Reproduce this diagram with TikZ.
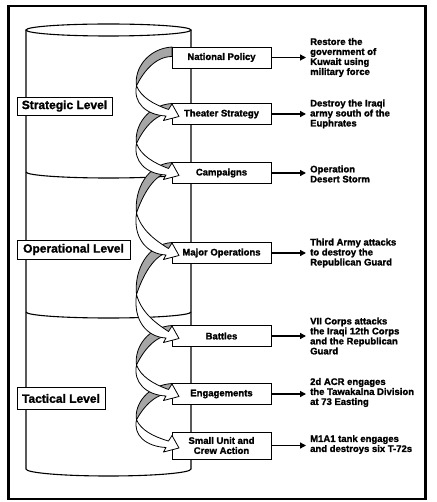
\documentclass[tikz,border=0pt]{standalone}
\usepackage{fontspec}
\setmainfont{Liberation Sans}
\newfontfamily\hb{Liberation Sans}[BoldFeatures={FakeBold=1.5}]
\usetikzlibrary{arrows.meta}

\tikzset{
  twistline/.style={draw=black,line width=0.8pt,line join=round},
  stepbox/.style={draw,fill=white,line width=0.8pt,minimum width=99pt,minimum height=21pt,
    inner sep=1pt,align=center,font=\hb\bfseries\fontsize{9.5}{10}\selectfont},
  lvlbox/.style={draw,fill=white,line width=0.8pt,inner sep=1pt,align=center,
    font=\hb\bfseries\fontsize{12}{13}\selectfont},
  outcome/.style={anchor=west,inner sep=0pt,align=left,
    font=\hb\bfseries\fontsize{9.5}{10}\selectfont},
  outarrow/.style={line width=1.3pt,-{Triangle[length=6pt,width=6pt]},shorten >=4pt},
  cyl/.style={line width=1.1pt}
}

\newcommand\gtwist[2]{%
  \pgfmathsetmacro\twym{(#1+#2)/2}\pgfmathsetmacro\twhh{(#2-#1)/2}%
  \draw[twistline,fill=black!35] (172,#1-10.5) .. controls (148,#1-9) and (134,\twym-0.6*\twhh) .. (136.5,\twym)
    .. controls (142,\twym-0.4*\twhh) and (154,#1-1) .. (172,#1-1) -- cycle;}
\newcommand\wtwist[2]{%
  \pgfmathsetmacro\twym{(#1+#2)/2}\pgfmathsetmacro\twhh{(#2-#1)/2}%
  \draw[twistline,fill=white] (136.5,\twym) .. controls (141,\twym+0.4*\twhh) and (153,#2-0.35*\twhh) .. (168.5,#2-4.5)
    -- (172,#2-10) -- (179,#2+2.5) -- (163.5,#2+6.5) -- (166,#2+2)
    .. controls (146,#2+1) and (133,\twym+0.6*\twhh) .. (136.5,\twym) -- cycle;}

\begin{document}
\begin{tikzpicture}[x=1pt,y=-1pt]
\useasboundingbox (0,0) rectangle (436,502);
\fill[white] (0,0) rectangle (436,502);
\draw[line width=2.5pt] (8.5,6) rectangle (425.5,499);

% cylinder
\draw[cyl,fill=white] (26,30) -- (26,469) arc[start angle=180,end angle=0,x radius=82.5,y radius=7] -- (191,30);
\draw[cyl,fill=white] (108.5,30) ellipse[x radius=82.5,y radius=6];
\draw[cyl] (26,172) arc[start angle=180,end angle=0,x radius=82.5,y radius=6];
\draw[cyl] (26,312) arc[start angle=180,end angle=0,x radius=82.5,y radius=6];

% level labels
\node[lvlbox,minimum width=95pt,minimum height=18pt] (strat) at (64.5,106) {Strategic Level};
\node[lvlbox,minimum width=113pt,minimum height=19pt] (oper) at (73.5,249.5) {Operational Level};
\node[lvlbox,minimum width=88pt,minimum height=22pt] (tact) at (61,398.5) {Tactical Level};

% gray back faces
\gtwist{57.5}{114}
\gtwist{114}{173}
\gtwist{173}{253}
\gtwist{253}{336}
\gtwist{336}{394}
\gtwist{394}{445.5}

% step boxes
\node[stepbox] (np) at (221.5,57.5) {National Policy};
\node[stepbox] (ts) at (221.5,114) {Theater Strategy};
\node[stepbox] (ca) at (221.5,173) {Campaigns};
\node[stepbox] (mo) at (221.5,253) {Major Operations};
\node[stepbox] (ba) at (221.5,336) {Battles};
\node[stepbox] (en) at (221.5,394) {Engagements};
\node[stepbox,minimum height=27pt] (su) at (221.5,445.5) {Small Unit and\\Crew Action};

% white front faces
\wtwist{57.5}{114}
\wtwist{114}{173}
\wtwist{173}{253}
\wtwist{253}{336}
\wtwist{336}{394}
\wtwist{394}{445.5}

% outcomes
\node[outcome] (npo) at (310,57.5) {Restore the\\government of\\Kuwait using\\military force};
\node[outcome] (tso) at (310,114) {Destroy the Iraqi\\army south of the\\Euphrates};
\node[outcome] (cao) at (310,174) {Operation\\Desert Storm};
\node[outcome] (moo) at (310,253) {Third Army attacks\\to destroy the\\Republican Guard};
\node[outcome] (bao) at (310,336) {VII Corps attacks\\the Iraqi 12th Corps\\and the Republican\\Guard};
\node[outcome] (eno) at (310,392.5) {2d ACR engages\\the Tawakalna Division\\at 73 Easting};
\node[outcome] (suo) at (310,444.5) {M1A1 tank engages\\and destroys six T-72s};

\foreach \a/\b in {np/npo,ts/tso,ca/cao,mo/moo,ba/bao,en/eno,su/suo}
  \draw[outarrow] (\a.east) -- (\a.east -| \b.west);
\end{tikzpicture}
\end{document}
